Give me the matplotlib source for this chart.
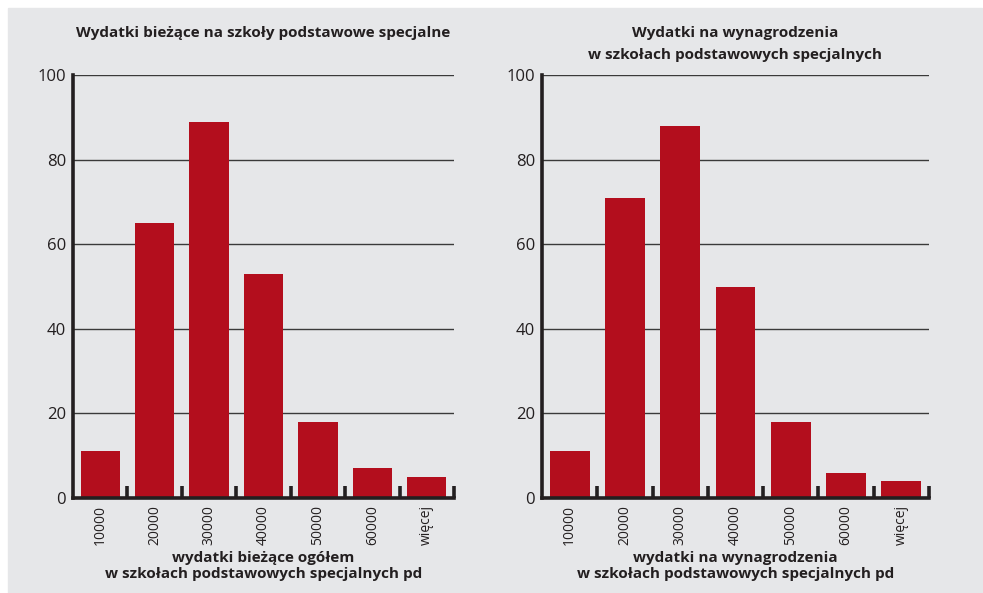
import matplotlib.pyplot as plt
import numpy as np

categories = ['10000', '20000', '30000', '40000', '50000', '60000', 'więcej']
biezace = [11, 65, 89, 53, 18, 7, 5]
wynagrodzenia = [11, 71, 88, 50, 18, 6, 4]

titles = ['Wydatki bieżące na szkoły podstawowe specjalne',
          'Wydatki na wynagrodzenia\nw szkołach podstawowych specjalnych']
xlabels = ['wydatki bieżące ogółem\nw szkołach podstawowych specjalnych pd',
           'wydatki na wynagrodzenia\nw szkołach podstawowych specjalnych pd']

bg = '#e6e7e9'
red = '#b30e1d'
ink = '#231f20'

plt.rcParams['font.family'] = ['Open Sans', 'DejaVu Sans']

W, H = 983, 593
fig = plt.figure(figsize=(W / 100, H / 100), dpi=100)
fig.patch.set_facecolor('white')
fig.patches.append(plt.Rectangle((8 / W, 0), (982 - 8) / W, (593 - 8) / H,
                                 transform=fig.transFigure, color=bg, zorder=-10))

boxes = [(73, 454), (542, 929)]
for (x0, x1), vals, title, xl in zip(boxes, [biezace, wynagrodzenia], titles, xlabels):
    ax = fig.add_axes([x0 / W, 1 - 498 / H, (x1 - x0) / W, (498 - 75) / H])
    ax.set_facecolor('none')
    x = np.arange(len(categories))
    ax.bar(x, vals, width=0.72, color=red, zorder=3)
    ax.set_xlim(-0.5, len(categories) - 0.5)
    ax.set_ylim(0, 100)
    ax.set_yticks([0, 20, 40, 60, 80, 100])
    ax.yaxis.grid(True, color='#3a3a3a', linewidth=1.0, zorder=1)
    ax.set_axisbelow(True)
    for s in ['top', 'right']:
        ax.spines[s].set_visible(False)
    for s in ['left', 'bottom']:
        ax.spines[s].set_linewidth(2.6)
        ax.spines[s].set_color(ink)
        ax.spines[s].set_zorder(4)
    ax.tick_params(axis='y', length=0, labelsize=12, labelcolor=ink, pad=5)
    ax.set_xticks(x)
    ax.set_xticklabels(categories, rotation=90, fontsize=10, color=ink)
    ax.tick_params(axis='x', which='major', length=0, pad=5)
    ax.set_xticks(x + 0.5, minor=True)
    ax.tick_params(axis='x', which='minor', direction='in', length=9, width=2.6, color=ink)

    cx = (x0 + x1) / 2 / W
    fig.text(cx, 1 - 26 / H, title, ha='center', va='top', fontsize=11,
             fontweight='bold', color=ink, linespacing=1.7)
    fig.text(cx, 1 - 551 / H, xl, ha='center', va='top', fontsize=11,
             fontweight='bold', color=ink, linespacing=1.2)

fig.savefig('out.png', dpi=100)
